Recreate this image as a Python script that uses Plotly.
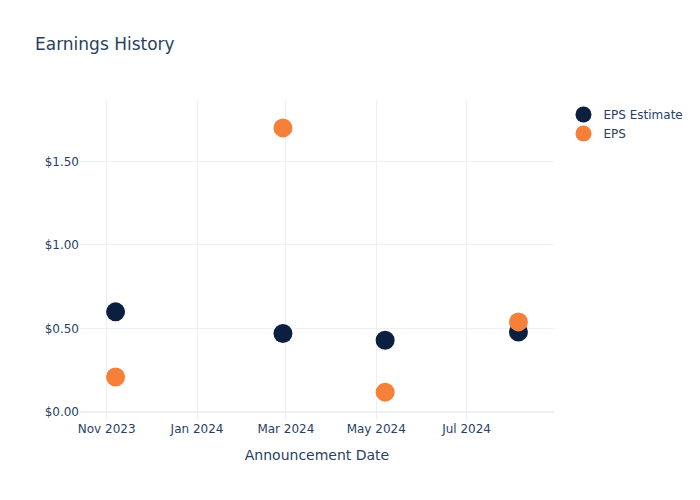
import plotly.graph_objects as go

dates = ["2023-11-07", "2024-02-28", "2024-05-07", "2024-08-05"]
eps_estimate = [0.60, 0.47, 0.43, 0.48]
eps_actual = [0.21, 1.70, 0.12, 0.54]

fig = go.Figure()
fig.add_trace(go.Scatter(x=dates, y=eps_estimate, mode="markers", name="EPS Estimate",
                         marker=dict(color="#0b1f40", size=19)))
fig.add_trace(go.Scatter(x=dates, y=eps_actual, mode="markers", name="EPS",
                         marker=dict(color="#f6803a", size=19)))
fig.update_layout(
    template="plotly_white",
    font=dict(family="DejaVu Sans"),
    title=dict(text="Earnings History"),
    width=700, height=500,
    xaxis=dict(title="Announcement Date", tickformat="%b %Y", dtick="M2"),
    yaxis=dict(tickformat="$.2f"),
)
fig.write_html("out.html")
